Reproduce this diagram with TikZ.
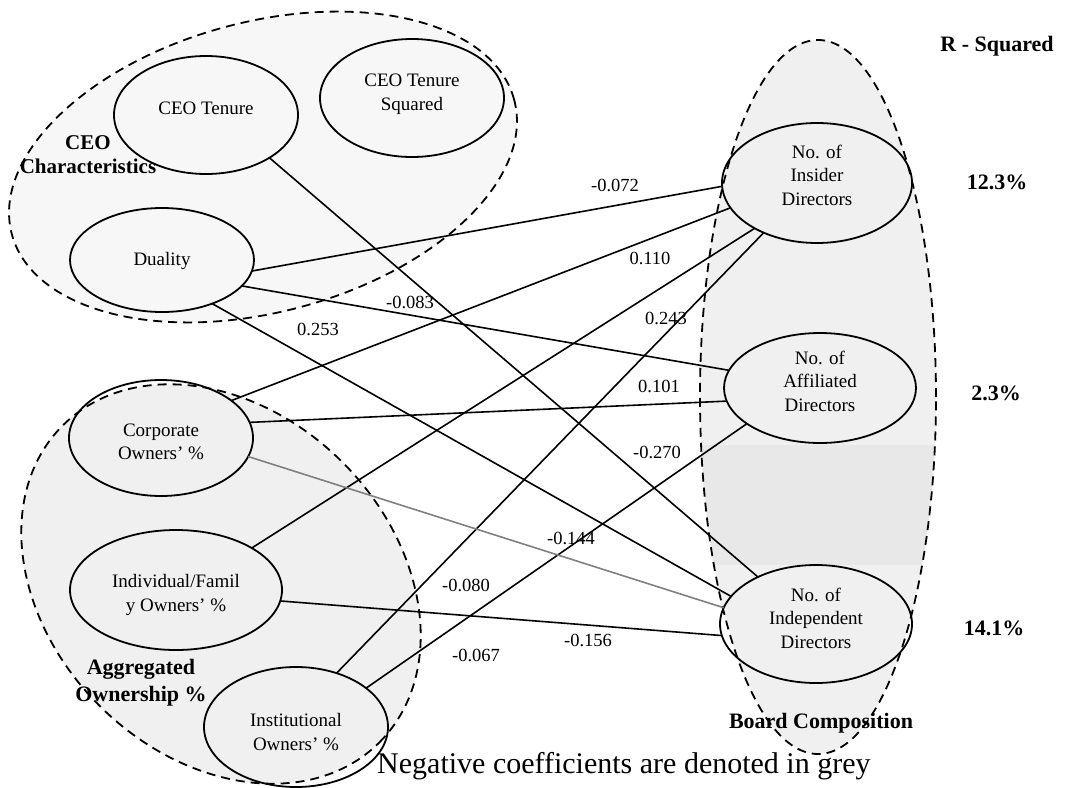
\documentclass[tikz,border=0pt]{standalone}
\usepackage{fontspec}
\setmainfont{Liberation Serif}
\usetikzlibrary{shapes.geometric}
\begin{document}
\begin{tikzpicture}[x=1pt,y=-1pt,
  var/.style={ellipse, draw, line width=1.8pt, inner sep=0pt, outer sep=0pt},
  grp/.style={ellipse, draw, line width=1.8pt, dash pattern=on 9pt off 6pt, inner sep=0pt, outer sep=0pt},
  vtext/.style={align=center, inner sep=0pt, font=\fontsize{19}{23.5}\selectfont},
  gtext/.style={align=center, inner sep=0pt, font=\fontsize{22}{27}\selectfont\bfseries},
  coef/.style={inner sep=0pt, font=\fontsize{18.5}{20}\selectfont},
  link/.style={line width=1.6pt},
  neglink/.style={line width=1.6pt, draw=black!50}]
\useasboundingbox (0,0) rectangle (1081,787);

% shaded group areas
\node[grp, draw=none, fill=black!3, minimum width=520pt, minimum height=290pt, rotate=15] (ceofill) at (263,167) {};
\node[grp, draw=none, fill=black!6, minimum width=448pt, minimum height=344pt, rotate=-45] (ownfill) at (221,584) {};
\node[grp, draw=none, fill=black!6, minimum width=236pt, minimum height=714pt] (boardfill) at (818,397) {};
\begin{scope}
  \clip (818,397) ellipse [x radius=118, y radius=357];
  \fill[black!9] (690,445) rectangle (950,565);
\end{scope}

% variables
\node[var, minimum width=184pt, minimum height=118pt] (tenure) at (206,115) {};
\node[var, minimum width=184pt, minimum height=118pt] (tenuresq) at (412,98) {};
\node[var, minimum width=184pt, minimum height=104pt] (duality) at (162,260) {};
\node[var, minimum width=184pt, minimum height=116pt] (corporate) at (161,438) {};
\node[var, minimum width=212pt, minimum height=120pt] (individual) at (176,590) {};
\node[var, minimum width=184pt, minimum height=120pt] (institutional) at (296,727) {};
\node[var, minimum width=190pt, minimum height=120pt] (insider) at (817,183) {};
\node[var, minimum width=192pt, minimum height=110pt] (affiliated) at (820,388) {};
\node[var, minimum width=192pt, minimum height=118pt] (independent) at (816,624) {};

% group outlines
\node[grp, minimum width=520pt, minimum height=290pt, rotate=15] (ceogrp) at (263,167) {};
\node[grp, minimum width=448pt, minimum height=344pt, rotate=-45] (owngrp) at (221,584) {};
\node[grp, minimum width=236pt, minimum height=714pt] (boardgrp) at (818,397) {};

% paths to insider directors
\draw[link] (duality.-7) -- (insider.182);
\draw[link] (corporate.28) -- (insider.196);
\draw[link] (individual.29) -- (insider.216);
\draw[link] (institutional.53) -- (insider.223);
% paths to affiliated directors
\draw[link] (duality.-18) -- (affiliated.169);
\draw[link] (corporate.10) -- (affiliated.188);
\draw[link] (institutional.29) -- (affiliated.206);
% paths to independent directors
\draw[link] (tenure.-34) -- (independent.141);
\draw[link] (duality.-41) -- (independent.162);
\draw[neglink] (corporate.-12) -- (independent.170);
\draw[link] (individual.-6) -- (independent.187);

% coefficients
\node[coef] (c1) at (615,185) {-0.072};
\node[coef] (c2) at (650,258) {0.110};
\node[coef] (c3) at (666,318) {0.243};
\node[coef] (c4) at (466,585) {-0.080};
\node[coef] (c5) at (410,302) {-0.083};
\node[coef] (c6) at (659,386) {0.101};
\node[coef] (c7) at (476,655) {-0.067};
\node[coef] (c8) at (318,329) {0.253};
\node[coef] (c9) at (657,452) {-0.270};
\node[coef] (c10) at (571,538) {-0.144};
\node[coef] (c11) at (588,640) {-0.156};

% variable names
\node[vtext] (tenure-t) at (206,108) {CEO Tenure};
\node[vtext] (tenuresq-t) at (412,94) {CEO Tenure\\Squared};
\node[vtext] (duality-t) at (162,261) {Duality};
\node[vtext] (corporate-t) at (161,442) {Corporate\\Owners’ \%};
\node[vtext] (individual-t) at (176,595) {Individual/Famil\\y Owners’ \%};
\node[vtext] (institutional-t) at (296,732) {Institutional\\Owners’ \%};
\node[vtext] (insider-t) at (817,175) {No. of\\Insider\\Directors};
\node[vtext] (affiliated-t) at (820,381) {No. of\\Affiliated\\Directors};
\node[vtext] (independent-t) at (816,618) {No. of\\Independent\\Directors};

% group names and fit
\node[gtext, font=\fontsize{21}{24}\selectfont\bfseries] (ceo-t) at (88,155) {CEO\\Characteristics};
\node[gtext] (own-t) at (141,683) {Aggregated\\Ownership \%};
\node[gtext] (board-t) at (821,723) {Board Composition};
\node[gtext] (rsq) at (997,46) {R - Squared};
\node[gtext] (rsq1) at (997,182) {12.3\%};
\node[gtext] (rsq2) at (996,393) {2.3\%};
\node[gtext] (rsq3) at (994,628) {14.1\%};

\node[anchor=west, inner sep=0pt, font=\fontsize{30}{32}\selectfont] (note) at (377,766) {Negative coefficients are denoted in grey};
\end{tikzpicture}
\end{document}
